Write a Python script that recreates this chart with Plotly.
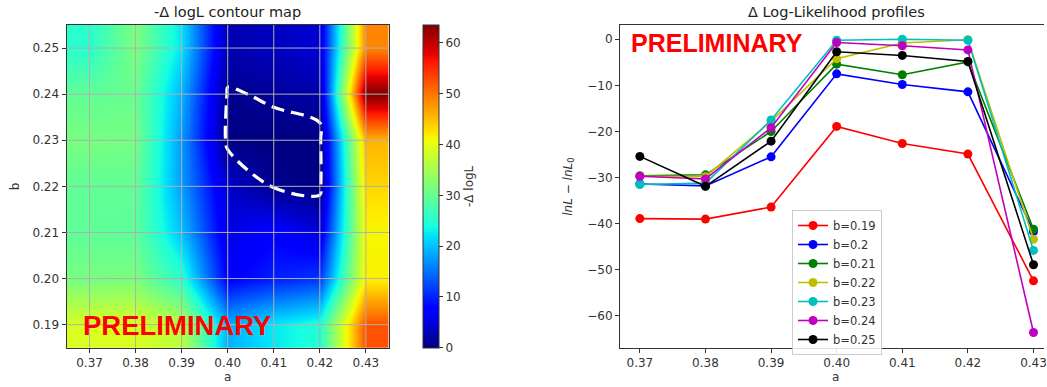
import numpy as np
import plotly.graph_objects as go

# ---------------- data ----------------
a_vals = [0.37, 0.38, 0.39, 0.40, 0.41, 0.42, 0.43]
b_vals = [0.19, 0.20, 0.21, 0.22, 0.23, 0.24, 0.25]
b_labels = ["b=0.19", "b=0.2", "b=0.21", "b=0.22", "b=0.23", "b=0.24", "b=0.25"]

ll_b019 = [-38.9, -39.0, -36.4, -18.9, -22.6, -24.9, -52.4]
ll_b020 = [-31.4, -31.8, -25.5, -7.5, -9.8, -11.4, -41.7]
ll_b021 = [-29.6, -29.4, -20.0, -5.4, -7.7, -4.9, -41.2]
ll_b022 = [-29.7, -29.8, -17.8, -4.2, -0.8, -0.1, -43.4]
ll_b023 = [-31.5, -31.2, -17.5, -0.2, 0.0, -0.2, -45.8]
ll_b024 = [-29.7, -30.3, -19.2, -0.7, -1.4, -2.3, -63.6]
ll_b025 = [-25.4, -31.9, -22.1, -2.7, -3.5, -4.8, -48.9]
profiles = [ll_b019, ll_b020, ll_b021, ll_b022, ll_b023, ll_b024, ll_b025]

contour_level = 1.0
a_ticks = [0.37, 0.38, 0.39, 0.40, 0.41, 0.42, 0.43]
b_ticks = [0.19, 0.20, 0.21, 0.22, 0.23, 0.24, 0.25]
cb_ticks = [0, 10, 20, 30, 40, 50, 60]
ll_ticks = [0, -10, -20, -30, -40, -50, -60]

# ---------------- styles ----------------
W, H = 1047, 387
line_colors = ["#ff0000", "#0000ff", "#008000", "#bfbf00", "#00bfbf", "#bf00bf", "#000000"]
FONT = "DejaVu Sans"
AXC = "#333333"


def px_x(p):
    return p / W


def px_y(p):
    return (H - p) / H


# matplotlib 'jet' colormap as a plotly colorscale
_r = ([0, 0.35, 0.66, 0.89, 1], [0, 0, 1, 1, 0.5])
_g = ([0, 0.125, 0.375, 0.64, 0.91, 1], [0, 0, 1, 1, 0, 0])
_b = ([0, 0.11, 0.34, 0.65, 1], [0.5, 1, 1, 0, 0])
_stops = sorted(set(_r[0] + _g[0] + _b[0]))
jet = []
for s in _stops:
    rr = np.interp(s, *_r)
    gg = np.interp(s, *_g)
    bb = np.interp(s, *_b)
    jet.append([s, "rgb(%d,%d,%d)" % (round(rr * 255), round(gg * 255), round(bb * 255))])

z = [[-v for v in prof] for prof in profiles]
zmax = max(max(row) for row in z)

fig = go.Figure()

# ---------------- left: heat map ----------------
fig.add_trace(go.Heatmap(
    x=a_vals, y=b_vals, z=z, zsmooth="best", colorscale=jet, zmin=0, zmax=zmax,
    xaxis="x", yaxis="y", hoverinfo="skip",
    colorbar=dict(
        x=px_x(424.3), xanchor="left", xpad=0, ypad=0,
        y=px_y(347.7), yanchor="bottom", len=(347.7 - 25) / H, lenmode="fraction",
        thickness=15.7, thicknessmode="pixels",
        outlinewidth=1, outlinecolor=AXC,
        tickvals=cb_ticks, ticks="outside", ticklen=4, tickcolor=AXC,
        tickfont=dict(family=FONT, size=12, color=AXC),
    ),
))
fig.add_trace(go.Contour(
    x=a_vals, y=b_vals, z=z, xaxis="x", yaxis="y",
    contours=dict(start=contour_level, end=contour_level, size=1, coloring="none"),
    line=dict(color="white", width=3.2, dash="13px,7px"),
    showscale=False, showlegend=False, hoverinfo="skip",
))

# ---------------- right: profiles ----------------
for lab, prof, col in zip(b_labels, profiles, line_colors):
    fig.add_trace(go.Scatter(
        x=a_vals, y=prof, mode="lines+markers", name=lab,
        line=dict(color=col, width=1.6), marker=dict(color=col, size=9),
        xaxis="x2", yaxis="y2",
    ))

tickfont = dict(family=FONT, size=12, color=AXC)
ax_common = dict(showline=True, linecolor=AXC, linewidth=1, ticks="outside",
                 ticklen=4, tickcolor=AXC, tickfont=tickfont, zeroline=False)

ydom = [px_y(347.7), px_y(25)]
fig.update_layout(
    width=W, height=H, autosize=False,
    margin=dict(l=0, r=0, t=0, b=0),
    paper_bgcolor="white", plot_bgcolor="white",
    xaxis=dict(domain=[px_x(66.7), px_x(390)], range=[0.365, 0.435], tickvals=a_ticks,
               tickformat=".2f", mirror=True, showgrid=False, anchor="y", **ax_common),
    yaxis=dict(domain=ydom, range=[0.185, 0.255], tickvals=b_ticks, tickformat=".2f",
               mirror=True, showgrid=False, anchor="x", **ax_common),
    xaxis2=dict(domain=[px_x(621.7), 1.0], range=[0.36696, 0.4316], tickvals=a_ticks,
                tickformat=".2f", mirror=True, showgrid=False, anchor="y2",
                ticklabeloverflow="allow", **ax_common),
    yaxis2=dict(domain=ydom, range=[-66.9, 3.1], tickvals=ll_ticks, showgrid=False,
                anchor="x2", **ax_common),
    legend=dict(x=px_x(794.3), y=px_y(210), xanchor="left", yanchor="top",
                bordercolor="#cccccc", borderwidth=1, bgcolor="rgba(255,255,255,0.85)",
                font=dict(family=FONT, size=11.5, color=AXC), tracegroupgap=0),
    showlegend=True,
)

# grid lines over the heat map
shapes = []
for t in a_ticks:
    shapes.append(dict(type="line", xref="x", yref="y domain", x0=t, x1=t, y0=0, y1=1,
                       line=dict(color="#b0b0b0", width=1), layer="above"))
for t in b_ticks:
    shapes.append(dict(type="line", xref="x domain", yref="y", x0=0, x1=1, y0=t, y1=t,
                       line=dict(color="#b0b0b0", width=1), layer="above"))
fig.update_layout(shapes=shapes)


def note(text, x, y, size=12, angle=0, family=FONT, color=AXC):
    return dict(text=text, x=px_x(x), y=px_y(y), xref="paper", yref="paper",
                xanchor="center", yanchor="middle", textangle=angle, showarrow=False,
                font=dict(family=family, size=size, color=color))


ann = [
    note("-Δ logL contour map", 228.4, 12, size=14.5, color="#222"),
    note("Δ Log-Likelihood profiles", 839, 12, size=14.5, color="#222"),
    note("a", 228.4, 377),
    note("a", 838, 377),
    note("b", 15, 186.4, angle=-90),
    note("<i>lnL − lnL</i><sub>0</sub>", 571, 186.4, angle=-90),
    note("-Δ logL", 471, 186.4, angle=-90),
    note("<b>PRELIMINARY</b>", 178, 325, size=27.5, family="Liberation Sans", color="#ff0000"),
    note("<b>PRELIMINARY</b>", 719, 42.5, size=25, family="Liberation Sans", color="#ff0000"),
]
fig.update_layout(annotations=ann)

fig.write_html("out.html", config={"displayModeBar": False},
               post_script="document.body.style.margin='0';")
